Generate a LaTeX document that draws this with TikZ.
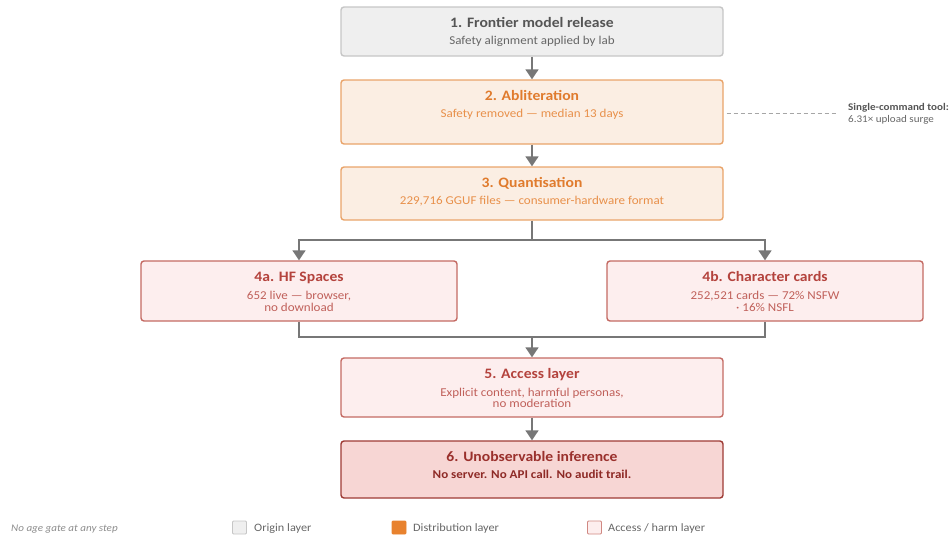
\documentclass[tikz,border=0pt]{standalone}
\usepackage{fontspec}
\setmainfont{Carlito}[FakeStretch=1.085]
\usetikzlibrary{arrows.meta,calc}
\definecolor{gfill}{HTML}{EFEFEF}\definecolor{gdraw}{HTML}{C6C6C6}
\definecolor{gtitle}{HTML}{555555}\definecolor{gsub}{HTML}{666666}
\definecolor{ofill}{HTML}{FBEEE3}\definecolor{odraw}{HTML}{E9A46A}
\definecolor{otitle}{HTML}{E07B2D}\definecolor{osub}{HTML}{E8904A}
\definecolor{pfill}{HTML}{FDEEEE}\definecolor{pdraw}{HTML}{C46A63}
\definecolor{ptitle}{HTML}{B4433D}\definecolor{psub}{HTML}{C0605A}
\definecolor{ffill}{HTML}{F7D6D4}\definecolor{fdraw}{HTML}{9E3B35}
\definecolor{ftitle}{HTML}{9A302C}\definecolor{fsub}{HTML}{8E2A26}
\definecolor{conn}{HTML}{777777}\definecolor{legorange}{HTML}{E8822E}
\tikzset{
  stepbox/.style={rectangle,rounded corners=3pt,line width=1.4pt,inner sep=0pt},
  graybox/.style={stepbox,fill=gfill,draw=gdraw},
  orangebox/.style={stepbox,fill=ofill,draw=odraw},
  pinkbox/.style={stepbox,fill=pfill,draw=pdraw},
  finalbox/.style={stepbox,fill=ffill,draw=fdraw},
  ttl/.style={anchor=base,inner sep=0pt,font=\fontsize{14.4}{16}\selectfont\bfseries},
  sub/.style={anchor=base,inner sep=0pt,font=\fontsize{12}{13}\selectfont},
  flow/.style={draw=conn,line width=1.8pt},
  arr/.style={flow,-{Triangle[width=13pt,length=10pt]}},
  legtext/.style={anchor=base west,inner sep=0pt,text=gsub,font=\fontsize{11.3}{13}\selectfont},
  legsq/.style={rectangle,minimum width=14pt,minimum height=13pt,inner sep=0pt,line width=0.8pt,rounded corners=1pt}
}
\begin{document}
\begin{tikzpicture}[x=1pt,y=-1pt]
\useasboundingbox (0,0) rectangle (951,538);
% boxes
\node[graybox,minimum width=382pt,minimum height=49pt] (b1) at (532,31.5) {};
\node[orangebox,minimum width=382pt,minimum height=64pt] (b2) at (532,112) {};
\node[orangebox,minimum width=382pt,minimum height=53pt] (b3) at (532,193.5) {};
\node[pinkbox,minimum width=316pt,minimum height=60pt] (b4a) at (299,291) {};
\node[pinkbox,minimum width=316pt,minimum height=60pt] (b4b) at (765,291) {};
\node[pinkbox,minimum width=382pt,minimum height=59pt] (b5) at (532,387.5) {};
\node[finalbox,minimum width=382pt,minimum height=57pt] (b6) at (532,469.5) {};
% texts
\node[ttl,text=gtitle] (t1) at ($(b1.north)+(0,21.3)$) {1. Frontier model release};
\node[sub,text=gsub] (s1) at ($(b1.north)+(0,38.5)$) {Safety alignment applied by lab};
\node[ttl,text=otitle] (t2) at ($(b2.north)+(0,21.3)$) {2. Abliteration};
\node[sub,text=osub] (s2) at ($(b2.north)+(0,38.5)$) {Safety removed — median 13 days};
\node[ttl,text=otitle] (t3) at ($(b3.north)+(0,21.3)$) {3. Quantisation};
\node[sub,text=osub] (s3) at ($(b3.north)+(0,38.5)$) {229,716 GGUF files — consumer-hardware format};
\node[ttl,text=ptitle] (t4a) at ($(b4a.north)+(0,21.3)$) {4a. HF Spaces};
\node[sub,text=psub] (s4a) at ($(b4a.north)+(0,39.3)$) {652 live — browser,};
\node[sub,text=psub] (s4a2) at ($(b4a.north)+(0,50.8)$) {no download};
\node[ttl,text=ptitle] (t4b) at ($(b4b.north)+(0,21.3)$) {4b. Character cards};
\node[sub,text=psub] (s4b) at ($(b4b.north)+(0,39.3)$) {252,521 cards — 72\% NSFW};
\node[sub,text=psub] (s4b2) at ($(b4b.north)+(0,50.8)$) {· 16\% NSFL};
\node[ttl,text=ptitle] (t5) at ($(b5.north)+(0,21.3)$) {5. Access layer};
\node[sub,text=psub] (s5) at ($(b5.north)+(0,38.8)$) {Explicit content, harmful personas,};
\node[sub,text=psub] (s52) at ($(b5.north)+(0,50.3)$) {no moderation};
\node[ttl,text=ftitle] (t6) at ($(b6.north)+(0,21.3)$) {6. Unobservable inference};
\node[sub,text=fsub,font=\fontsize{12}{13}\selectfont\bfseries] (s6) at ($(b6.north)+(0,38.5)$) {No server. No API call. No audit trail.};
% connectors
\coordinate (split) at (532,240);
\coordinate (merge) at (532,337);
\draw[arr] (b1.south) -- (b2.north);
\draw[arr] (b2.south) -- (b3.north);
\draw[flow] (b3.south) -- (split);
\draw[arr] (split) -| (b4a.north);
\draw[arr] (split) -| (b4b.north);
\draw[flow] (b4a.south) |- (merge);
\draw[flow] (b4b.south) |- (merge);
\draw[arr] (merge) -- (b5.north);
\draw[arr] (b5.south) -- (b6.north);
% side note
\coordinate (noteend) at (838,113);
\draw[draw=gray!70,line width=0.9pt,dash pattern=on 4pt off 3pt] (b2.east) ++(3,1) -- (noteend);
\node[anchor=base west,inner sep=0pt,text=gtitle,font=\fontsize{10.2}{12}\selectfont\bfseries] (note) at (848,110.5) {Single-command tool:};
\node[anchor=base west,inner sep=0pt,text=gsub,font=\fontsize{10.2}{12}\selectfont] (note2) at (848,122.5) {6.31× upload surge};
% legend
\node[anchor=base west,inner sep=0pt,text=gray!90,font=\fontsize{10.2}{12}\selectfont\itshape] (nogate) at (11,531) {No age gate at any step};
\node[legsq,fill=gfill,draw=gdraw] (lg1) at (239.5,527.5) {};
\node[legtext] (lt1) at (254,531) {Origin layer};
\node[legsq,fill=legorange,draw=legorange] (lg2) at (399,527.5) {};
\node[legtext] (lt2) at (413,531) {Distribution layer};
\node[legsq,fill=pfill,draw=pdraw!80] (lg3) at (594.5,527.5) {};
\node[legtext] (lt3) at (608,531) {Access / harm layer};
\end{tikzpicture}
\end{document}
